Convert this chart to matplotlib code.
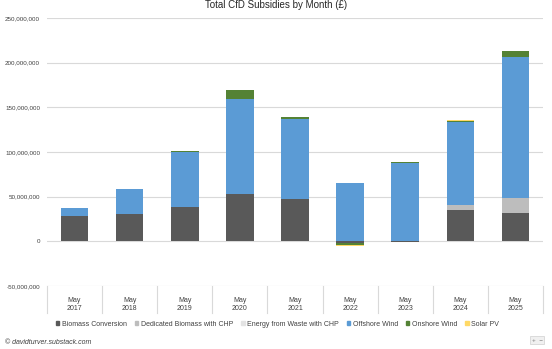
import matplotlib.pyplot as plt
from matplotlib.ticker import FuncFormatter
from matplotlib.patches import Rectangle
import numpy as np

plt.rcParams['font.family'] = ['Liberation Sans', 'DejaVu Sans']

# valori in milioni di sterline
years = ['2017', '2018', '2019', '2020', '2021', '2022', '2023', '2024', '2025']
biomass = [28.3, 30.5, 38.4, 53.3, 47.3, -2.0, -1.0, 34.7, 32.0]
dedicated = [0, 0, 0, 0, 0, 0, 0, 6.0, 16.8]
efw = [0, 0, 0, 0, 0, 0, 0, 0, 0]
offshore = [8.7, 28.5, 61.1, 106.3, 89.7, 65.6, 87.2, 92.8, 157.8]
onshore = [0, 0, 1.5, 9.5, 1.8, -2.5, 1.8, 1.5, 6.3]
solar = [0, 0, 0, 0, 0, -1.0, 0, 0.4, 0]

series = [
    ('Biomass Conversion', biomass, '#595959'),
    ('Dedicated Biomass with CHP', dedicated, '#bdbdbd'),
    ('Energy from Waste with CHP', efw, '#e3e3e3'),
    ('Offshore Wind', offshore, '#5b9bd5'),
    ('Onshore Wind', onshore, '#548235'),
    ('Solar PV', solar, '#ffd966'),
]

W, H = 552, 349
fig = plt.figure(figsize=(W / 100, H / 100), dpi=100)
ax = fig.add_axes([47 / W, 1 - 286 / H, (543 - 47) / W, (286 - 18) / H])

x = np.arange(len(years))
pos_bottom = np.zeros(len(years))
neg_bottom = np.zeros(len(years))
handles = []
for name, vals, col in series:
    v = np.array(vals) * 1e6
    bottom = np.where(v >= 0, pos_bottom, neg_bottom)
    ax.bar(x, v, 0.5, bottom=bottom, color=col, zorder=3)
    pos_bottom = pos_bottom + np.where(v > 0, v, 0)
    neg_bottom = neg_bottom + np.where(v < 0, v, 0)
    handles.append(Rectangle((0, 0), 1, 1, color=col, label=name))

ax.set_xlim(-0.5, len(years) - 0.5)
ax.set_ylim(-50e6, 250e6)
ax.set_yticks(np.arange(-50e6, 251e6, 50e6))
ax.yaxis.set_major_formatter(FuncFormatter(lambda v, p: f'{v:,.0f}'))
ax.tick_params(axis='y', length=0, labelsize=4.5, labelcolor='#404040', pad=5)
ax.set_xticks([])
ax.grid(axis='y', color='#d9d9d9', linewidth=0.8, zorder=0)
for s in ax.spines.values():
    s.set_visible(False)

# riquadro delle categorie sotto l'asse
tr = ax.get_xaxis_transform()
box_h = (313 - 286) / (286 - 18)
for b in np.arange(-0.5, len(years), 1.0):
    ax.plot([b, b], [0, -box_h], transform=tr, color='#d9d9d9', lw=0.8, clip_on=False)
for i, yr in enumerate(years):
    ax.text(i, -14 / 268, 'May', transform=tr, ha='center', va='center', fontsize=5, color='#404040')
    ax.text(i, -23 / 268, yr, transform=tr, ha='center', va='center', fontsize=5, color='#404040')

fig.text(0.5, 1 - 5 / H, 'Total CfD Subsidies by Month (£)', ha='center', va='center',
         fontsize=7, color='#262626')

fig.legend(handles=handles, loc='center', bbox_to_anchor=(0.503, 1 - 324 / H), ncol=6,
           frameon=False, fontsize=5, handlelength=0.5, handleheight=0.5,
           handletextpad=0.4, columnspacing=1.1, labelcolor='#404040')

fig.text(5 / W, 1 - 342 / H, '© davidturver.substack.com', ha='left', va='center',
         fontsize=5, style='italic', color='#404040')
fig.text(537 / W, 1 - 340 / H, '+  −', ha='center', va='center', fontsize=4.5,
         color='#808080', bbox=dict(boxstyle='square,pad=0.2', fc='#f0f0f0', ec='#d0d0d0', lw=0.5))

fig.savefig('out.png', dpi=100)
